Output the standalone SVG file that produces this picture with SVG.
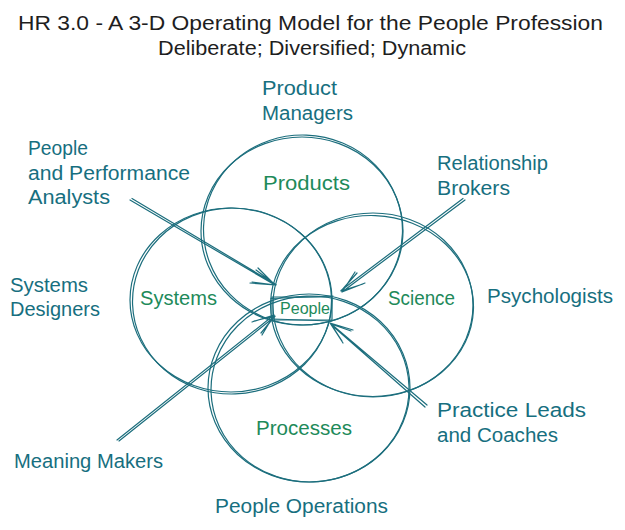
<svg xmlns="http://www.w3.org/2000/svg" width="625" height="530" viewBox="0 0 625 530">
<style>
.c{fill:none;stroke:#1c6e7d;stroke-width:1.2}
.a{fill:none;stroke:#1c6e7d;stroke-width:1.2;stroke-linecap:round;stroke-linejoin:round}
.r{font-family:"Liberation Sans",Arial,sans-serif;font-size:20px;fill:#176f7f}
.g{font-family:"Liberation Sans",Arial,sans-serif;font-size:20px;fill:#1e8a5a}
.t{font-family:"Liberation Sans",Arial,sans-serif;font-size:20px;fill:#1e1e1e}
</style>
<rect width="625" height="530" fill="#ffffff"/>
<g id="title">
<text class="t" x="18" y="30" textLength="585" lengthAdjust="spacingAndGlyphs">HR 3.0 - A 3-D Operating Model for the People Profession</text>
<text class="t" x="158" y="55" textLength="308" lengthAdjust="spacingAndGlyphs">Deliberate; Diversified; Dynamic</text>
</g>
<g id="products">
<ellipse class="c" cx="302" cy="231" rx="101" ry="94"/>
<ellipse class="c" cx="303" cy="230" rx="99.5" ry="95" transform="rotate(2 303 230)"/>
<text class="g" x="263" y="190" textLength="87" lengthAdjust="spacingAndGlyphs">Products</text>
</g>
<g id="systems">
<ellipse class="c" cx="231" cy="300" rx="101" ry="92"/>
<ellipse class="c" cx="232" cy="301" rx="99.5" ry="93" transform="rotate(-2 232 301)"/>
<text class="g" x="140" y="305" textLength="77" lengthAdjust="spacingAndGlyphs">Systems</text>
</g>
<g id="science">
<ellipse class="c" cx="373" cy="305" rx="100" ry="92"/>
<ellipse class="c" cx="372" cy="306" rx="101.5" ry="90.5" transform="rotate(2 372 306)"/>
<text class="g" x="388" y="305" textLength="67" lengthAdjust="spacingAndGlyphs">Science</text>
</g>
<g id="processes">
<ellipse class="c" cx="309" cy="388" rx="101" ry="94"/>
<ellipse class="c" cx="310" cy="389" rx="99" ry="93" transform="rotate(-2 310 389)"/>
<text class="g" x="256" y="435" textLength="96" lengthAdjust="spacingAndGlyphs">Processes</text>
</g>
<g id="people">
<path class="a" d="M272 297 L332 297 L332 320 L272 320 Z"/>
<path class="a" d="M271 298.5 L333 296 M273 319 L331 321"/>
<text class="g" x="280" y="314" style="font-size:16px" textLength="50" lengthAdjust="spacingAndGlyphs">People</text>
</g>
<g id="product-managers">
<text class="r" x="262" y="95" textLength="75" lengthAdjust="spacingAndGlyphs">Product</text>
<text class="r" x="262" y="120" textLength="91" lengthAdjust="spacingAndGlyphs">Managers</text>
</g>
<g id="ppa">
<text class="r" x="28" y="155" textLength="60" lengthAdjust="spacingAndGlyphs">People</text>
<text class="r" x="28" y="180" textLength="162" lengthAdjust="spacingAndGlyphs">and Performance</text>
<text class="r" x="28" y="204" textLength="82" lengthAdjust="spacingAndGlyphs">Analysts</text>
</g>
<g id="relationship-brokers">
<text class="r" x="437" y="170" textLength="111" lengthAdjust="spacingAndGlyphs">Relationship</text>
<text class="r" x="437" y="195" textLength="73" lengthAdjust="spacingAndGlyphs">Brokers</text>
</g>
<g id="systems-designers">
<text class="r" x="10" y="292" textLength="78" lengthAdjust="spacingAndGlyphs">Systems</text>
<text class="r" x="10" y="316" textLength="90" lengthAdjust="spacingAndGlyphs">Designers</text>
</g>
<g id="psychologists">
<text class="r" x="487" y="303" textLength="126" lengthAdjust="spacingAndGlyphs">Psychologists</text>
</g>
<g id="practice-leads">
<text class="r" x="437" y="417" textLength="149" lengthAdjust="spacingAndGlyphs">Practice Leads</text>
<text class="r" x="437" y="442" textLength="121" lengthAdjust="spacingAndGlyphs">and Coaches</text>
</g>
<g id="meaning-makers">
<text class="r" x="14" y="468" textLength="149" lengthAdjust="spacingAndGlyphs">Meaning Makers</text>
</g>
<g id="people-operations">
<text class="r" x="215" y="513" textLength="173" lengthAdjust="spacingAndGlyphs">People Operations</text>
</g>
<g id="connectors">
<path class="a" d="M130 200 L275 285 M132 198.5 L276 284.5 M258 268 L275 285 L250 283 M256 270 L276 285 L252 282"/>
<path class="a" d="M465 200 L342 292 M463 198.5 L341 290.5 M355 272 L342 292 L365 283 M357 273 L341 291 L363 284"/>
<path class="a" d="M117 440 L274 315 M119 441 L275 316.5 M252 322 L274 315 L262 335 M254 321 L275 316 L261 333"/>
<path class="a" d="M427 405 L330 323 M425 407 L331 324.5 M353 330 L330 323 L343 343 M351 331 L331 324 L342 341"/>
</g>
</svg>
